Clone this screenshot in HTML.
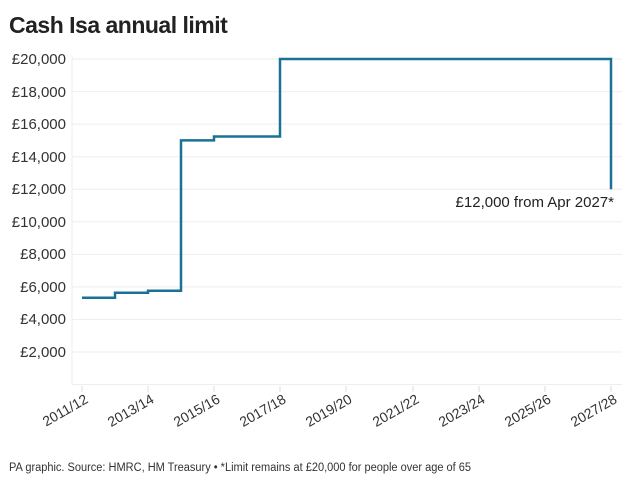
<!DOCTYPE html>
<html><head><meta charset="utf-8"><style>
body{margin:0;background:#fff;width:640px;height:483px;overflow:hidden}
svg{display:block;font-family:"Liberation Sans",sans-serif}
</style></head><body>
<svg width="640" height="483" viewBox="0 0 640 483">
<text x="9" y="33" font-size="23" font-weight="bold" fill="#222" letter-spacing="-0.5">Cash Isa annual limit</text>
<g stroke="#eeeeee" stroke-width="1">
<line x1="72" x2="622" y1="59" y2="59"/><line x1="72" x2="622" y1="91.6" y2="91.6"/>
<line x1="72" x2="622" y1="124.1" y2="124.1"/><line x1="72" x2="622" y1="156.7" y2="156.7"/>
<line x1="72" x2="622" y1="189.3" y2="189.3"/><line x1="72" x2="622" y1="221.8" y2="221.8"/>
<line x1="72" x2="622" y1="254.4" y2="254.4"/><line x1="72" x2="622" y1="286.9" y2="286.9"/>
<line x1="72" x2="622" y1="319.5" y2="319.5"/><line x1="72" x2="622" y1="352" y2="352"/>
<line x1="72" x2="622" y1="384.5" y2="384.5"/><line x1="72" x2="72" y1="55" y2="384.5"/>
</g>
<g font-size="15" fill="#333" text-anchor="end">
<text x="66" y="64">£20,000</text><text x="66" y="97">£18,000</text><text x="66" y="129">£16,000</text>
<text x="66" y="162">£14,000</text><text x="66" y="194">£12,000</text><text x="66" y="227">£10,000</text>
<text x="66" y="259">£8,000</text><text x="66" y="292">£6,000</text><text x="66" y="324">£4,000</text>
<text x="66" y="357">£2,000</text>
</g>
<g stroke="#ddd" stroke-width="1">
<line x1="82" x2="82" y1="386" y2="392"/><line x1="148" x2="148" y1="386" y2="392"/>
<line x1="214" x2="214" y1="386" y2="392"/><line x1="280" x2="280" y1="386" y2="392"/>
<line x1="346" x2="346" y1="386" y2="392"/><line x1="413" x2="413" y1="386" y2="392"/>
<line x1="479" x2="479" y1="386" y2="392"/><line x1="545" x2="545" y1="386" y2="392"/>
<line x1="611" x2="611" y1="386" y2="392"/>
</g>
<g font-size="14" fill="#333" text-anchor="end">
<text transform="translate(89,402) rotate(-30)">2011/12</text>
<text transform="translate(155,402) rotate(-30)">2013/14</text>
<text transform="translate(221,402) rotate(-30)">2015/16</text>
<text transform="translate(287,402) rotate(-30)">2017/18</text>
<text transform="translate(353,402) rotate(-30)">2019/20</text>
<text transform="translate(420,402) rotate(-30)">2021/22</text>
<text transform="translate(486,402) rotate(-30)">2023/24</text>
<text transform="translate(552,402) rotate(-30)">2025/26</text>
<text transform="translate(618,402) rotate(-30)">2027/28</text>
</g>
<polyline fill="none" stroke="#1a7196" stroke-width="2.5" points="82,297.7 115,297.7 115,292.8 148,292.8 148,290.8 181,290.8 181,140.4 214,140.4 214,136.5 280,136.5 280,59 611,59 611,189.3"/>
<text x="614" y="207" font-size="15" fill="#222" text-anchor="end">£12,000 from Apr 2027*</text>
<text x="9" y="471" font-size="11.5" fill="#333" textLength="462" lengthAdjust="spacingAndGlyphs">PA graphic. Source: HMRC, HM Treasury • *Limit remains at £20,000 for people over age of 65</text>
</svg>
</body></html>
